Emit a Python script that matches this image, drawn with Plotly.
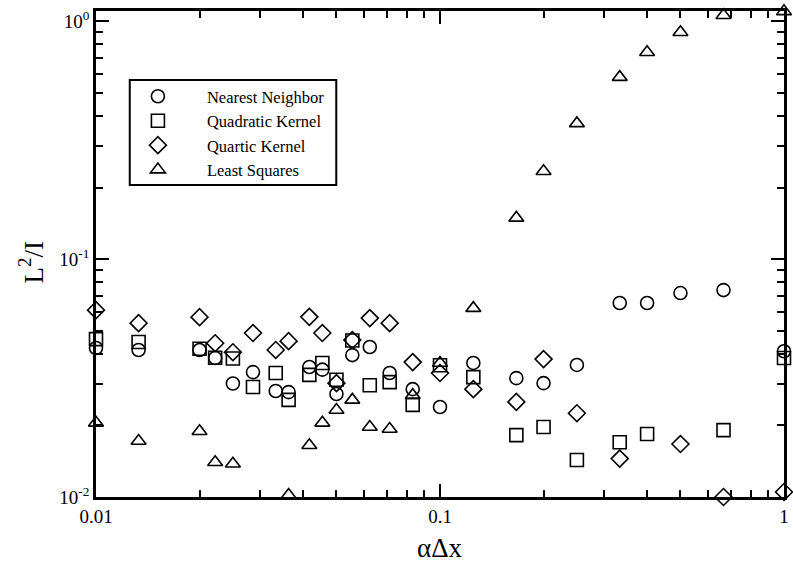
import plotly.graph_objects as go

# ---- data ----
x_nn = [0.01, 0.0133, 0.02, 0.0222, 0.025, 0.0286, 0.0333, 0.0363, 0.0417, 0.0455, 0.05, 0.0556,
        0.0625, 0.0714, 0.0833, 0.1, 0.125, 0.1667, 0.2, 0.25, 0.333, 0.4, 0.5, 0.667, 1.0]
y_nn = [0.0423, 0.0415, 0.0415, 0.0384, 0.0300, 0.0335, 0.0279, 0.0276, 0.0352, 0.0343, 0.0271, 0.0395,
        0.0427, 0.0332, 0.0284, 0.0239, 0.0366, 0.0316, 0.0301, 0.0359, 0.0654, 0.0654, 0.0720, 0.0741, 0.0410]

x_quad = [0.01, 0.0133, 0.02, 0.0222, 0.025, 0.0286, 0.0333, 0.0363, 0.0417, 0.0455, 0.05, 0.0556,
          0.0625, 0.0714, 0.0833, 0.1, 0.125, 0.1667, 0.2, 0.25, 0.333, 0.4, 0.667, 1.0]
y_quad = [0.0461, 0.0448, 0.0420, 0.0385, 0.0382, 0.0290, 0.0332, 0.0256, 0.0326, 0.0366, 0.0311, 0.0455,
          0.0295, 0.0304, 0.0244, 0.0358, 0.0319, 0.0182, 0.0197, 0.0143, 0.0170, 0.0184, 0.0191, 0.0384]

x_quart = [0.01, 0.0133, 0.02, 0.0222, 0.025, 0.0286, 0.0333, 0.0363, 0.0417, 0.0455, 0.05, 0.0556,
           0.0625, 0.0714, 0.0833, 0.1, 0.125, 0.1667, 0.2, 0.25, 0.333, 0.5, 0.667, 1.0]
y_quart = [0.0610, 0.0538, 0.0570, 0.0443, 0.0406, 0.0489, 0.0415, 0.0452, 0.0572, 0.0489, 0.0301, 0.0457,
           0.0565, 0.0538, 0.0369, 0.0332, 0.0284, 0.0251, 0.0380, 0.0225, 0.0145, 0.0167, 0.0100, 0.0105]

x_ls = [0.01, 0.0133, 0.02, 0.0222, 0.025, 0.0363, 0.0417, 0.0455, 0.05, 0.0556, 0.0625, 0.0714,
        0.0833, 0.1, 0.125, 0.1667, 0.2, 0.25, 0.333, 0.4, 0.5, 0.667, 1.0]
y_ls = [0.0205, 0.0172, 0.0189, 0.0140, 0.0138, 0.0102, 0.0165, 0.0205, 0.0232, 0.0256, 0.0197, 0.0193,
        0.0268, 0.0366, 0.0622, 0.149, 0.234, 0.372, 0.582, 0.741, 0.899, 1.06, 1.10]

series = [
    ("Nearest Neighbor", x_nn, y_nn, "circle-open"),
    ("Quadratic Kernel", x_quad, y_quad, "square-open"),
    ("Quartic Kernel", x_quart, y_quart, "diamond-open"),
    ("Least Squares", x_ls, y_ls, "triangle-up-open"),
]

x_major = [0.01, 0.1, 1]
x_major_text = ["0.01", "0.1", "1"]
y_major = [0.01, 0.1, 1]
y_major_text = ["10<sup>-2</sup>", "10<sup>-1</sup>", "10<sup>0</sup>"]

FONT = "Liberation Serif, Times New Roman, serif"

# layout geometry (pixels)
W, H = 793, 567
L, R, T, B = 96, 4, 11, 70
pw, ph = W - L - R, H - T - B


def px(xp):
    return (xp - L) / pw


def py(yp):
    return (H - B - yp) / ph


fig = go.Figure()
for name, xs, ys, sym in series:
    fig.add_trace(go.Scatter(
        x=xs, y=ys, mode="markers", name=name, cliponaxis=False,
        marker=dict(symbol=sym, size=13, color="black", line=dict(width=1.6, color="black")),
    ))

minor_vals = []
for dec in [0.001, 0.01, 0.1, 1]:
    for k in range(2, 10):
        minor_vals.append(dec * k)

axis_common = dict(
    type="log", showgrid=False, zeroline=False, showline=True, linecolor="black", linewidth=2.5,
    mirror="allticks", ticks="inside", ticklen=13, tickwidth=2, tickcolor="black",
    tickfont=dict(family=FONT, size=19, color="black"),
    minor=dict(ticks="inside", ticklen=7, tickwidth=2, tickcolor="black",
               tickmode="array", tickvals=minor_vals, showgrid=False),
)

fig.update_layout(
    width=W, height=H, margin=dict(l=L, r=R, t=T, b=B),
    plot_bgcolor="white", paper_bgcolor="white",
    font=dict(family=FONT, color="black"),
    xaxis=dict(axis_common, range=[-2, 0], tickmode="array", tickvals=x_major, ticktext=x_major_text),
    yaxis=dict(axis_common, range=[-2, 0.043], tickmode="array", tickvals=y_major, ticktext=y_major_text),
    showlegend=True,
    legend=dict(
        x=px(109), y=py(79), xanchor="left", yanchor="top",
        bgcolor="rgba(0,0,0,0)", borderwidth=0, itemwidth=88,
        font=dict(family=FONT, size=16.5, color="black"),
    ),
    shapes=[dict(type="rect", xref="paper", yref="paper",
                 x0=px(130), x1=px(338), y0=py(185), y1=py(80),
                 line=dict(color="black", width=2), fillcolor="rgba(0,0,0,0)")],
    annotations=[
        dict(text="L<sup>2</sup>/I", xref="paper", yref="paper", x=px(31), y=py(262),
             showarrow=False, textangle=-90, font=dict(family=FONT, size=27, color="black"),
             xanchor="center", yanchor="middle"),
        dict(text="αΔx", xref="paper", yref="paper", x=px(442), y=py(548),
             showarrow=False, font=dict(family=FONT, size=27, color="black"),
             xanchor="center", yanchor="middle"),
    ],
)

fig.write_html("out.html")
